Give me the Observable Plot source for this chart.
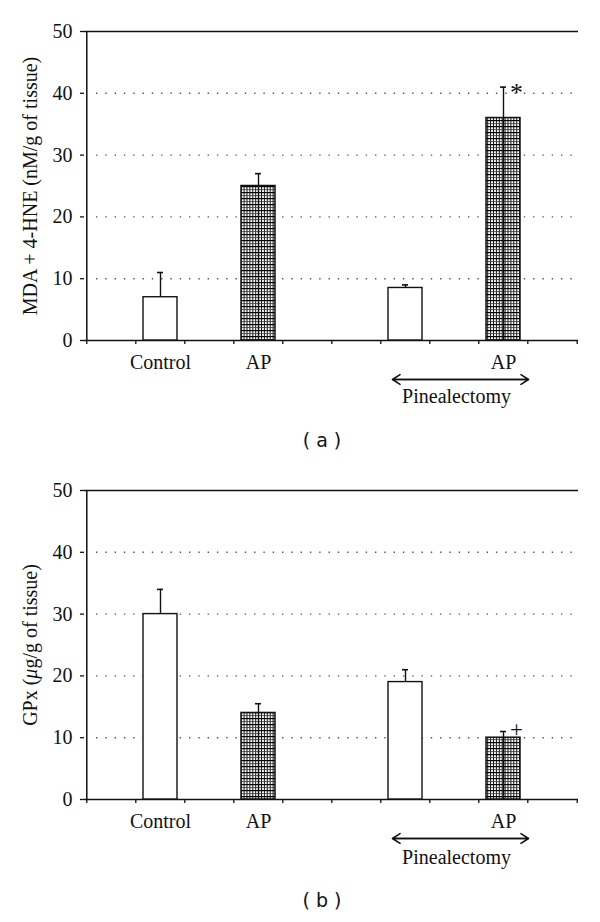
<!DOCTYPE html>
<html>
<head>
<meta charset="utf-8">
<script src="https://cdn.jsdelivr.net/npm/d3@7"></script>
<script src="https://cdn.jsdelivr.net/npm/@observablehq/plot@0.6"></script>
<style>
  body { margin: 0; background: #fff; width: 600px; }
  svg { display: block; }
  svg text { font-family: "Liberation Serif", "Times New Roman", serif; }
  .cap { font-family: "DejaVu Sans", sans-serif; font-size: 19px; height: 40px; line-height: 40px;
         text-align: center; padding-left: 44px; box-sizing: border-box; width: 600px; color: #111; }
</style>
</head>
<body>
<script>
// ---- data ----
const groups = ["Control", "AP", "Pinealectomy", "Pinealectomy + AP"];
const hatched = [false, true, false, true];
const mdaMean = [7, 25, 8.5, 36];
const mdaErr = [4, 2, 0.5, 5];
const gpxMean = [30, 14, 19, 10];
const gpxErr = [4, 1.5, 2, 1];
// category slots of the original chart (empty slots are gaps)
const slots = ["_0", "Control", "_2", "AP", "_4", "_5", "Pinealectomy", "_7", "Pinealectomy + AP", "_9"];
const xTickLabels = [
  {slot: "Control", label: "Control"},
  {slot: "AP", label: "AP"},
  {slot: "Pinealectomy + AP", label: "AP"}
];
const bracket = {from: "Pinealectomy", to: "Pinealectomy + AP", mid: "_7", label: "Pinealectomy"};
const yTicks = [0, 10, 20, 30, 40, 50];
const gridTicks = [10, 20, 30, 40];
const mdaSig = [{group: "Pinealectomy + AP", symbol: "*"}];
const gpxSig = [{group: "Pinealectomy + AP", symbol: "+"}];

const W = 600, ML = 84, MR = 22;
const step = (W - ML - MR) / slots.length;
const SERIF = "'Liberation Serif', 'Times New Roman', serif";
const FS = 20;

function chart({id, mean, err, yLabel, sig, sigDy, sigSize, height, marginTop, marginBottom, labDy, pinDy}) {
  const data = groups.map((g, i) => ({group: g, value: mean[i], hi: mean[i] + err[i], hatched: hatched[i]}));
  const sigData = sig.map(s => ({...s, hi: data.find(d => d.group === s.group).hi}));
  const svg = Plot.plot({
    width: W, height, marginTop, marginBottom, marginLeft: ML, marginRight: MR,
    style: {fontFamily: SERIF, fontSize: FS + "px", color: "#111", background: "#fff", overflow: "visible"},
    x: {domain: slots, paddingInner: 0.31, paddingOuter: 0.155},
    y: {domain: [0, 50]},
    marks: [
      Plot.ruleY(gridTicks, {stroke: "#555", strokeWidth: 1.4, strokeDasharray: "1.4 7.9", insetLeft: 12, insetRight: 3}),
      Plot.ruleY([0, 50], {stroke: "#111", strokeWidth: 1.5}),
      Plot.ruleX([slots[0]], {dx: -step / 2, stroke: "#111", strokeWidth: 1.5}),
      Plot.axisY({ticks: yTicks, tickSize: 4, tickPadding: 8, label: null, fontSize: FS, fontFamily: SERIF, strokeWidth: 1.3}),
      Plot.axisX({ticks: slots, tickSize: 4, tickFormat: () => "", dx: -step / 2, label: null, strokeWidth: 1.3}),
      Plot.axisX({ticks: [slots[slots.length - 1]], tickSize: 4, tickFormat: () => "", dx: step / 2, label: null, strokeWidth: 1.3}),
      Plot.barY(data.filter(d => !d.hatched), {x: "group", y: "value", fill: "white", stroke: "#111", strokeWidth: 1.4}),
      Plot.barY(data.filter(d => d.hatched), {x: "group", y: "value", fill: `url(#${id})`, stroke: "#111", strokeWidth: 1.5}),
      Plot.ruleX(data.filter(d => d.hatched), {x: "group", y1: 0, y2: "value", stroke: "#111", strokeWidth: 1.4}),
      Plot.ruleX(data, {x: "group", y1: "value", y2: "hi", stroke: "#111", strokeWidth: 1.4}),
      Plot.tickY(data, {x: "group", y: "hi", insetLeft: 14, insetRight: 14, stroke: "#111", strokeWidth: 1.6}),
      Plot.text(sigData, {x: "group", y: "hi", text: "symbol", dx: 13, dy: sigDy, fontSize: sigSize, fontFamily: SERIF, fill: "#111"}),
      Plot.text(xTickLabels, {x: "slot", text: "label", frameAnchor: "bottom", dy: labDy, fontSize: FS, fontFamily: SERIF, fill: "#111"}),
      Plot.arrow([bracket], {x1: "from", x2: "to", y1: 0, y2: 0, dy: 39, insetStart: -13, insetEnd: -25, headLength: 9, headAngle: 66, stroke: "#111", strokeWidth: 1.5}),
      Plot.arrow([bracket], {x1: "to", x2: "from", y1: 0, y2: 0, dy: 39, insetStart: -25, insetEnd: -13, headLength: 9, headAngle: 66, stroke: "#111", strokeWidth: 1.5}),
      Plot.text([bracket], {x: "mid", text: "label", frameAnchor: "bottom", dy: pinDy, dx: 2, fontSize: FS, fontFamily: SERIF, fill: "#111"}),
      Plot.text([yLabel], {text: d => d, frameAnchor: "left", textAnchor: "middle", dx: -54, rotate: -90, fontSize: FS, fontFamily: SERIF, fill: "#111"})
    ]
  });
  const s = d3.select(svg);
  const defs = s.insert("defs", ":first-child");
  const p = defs.append("pattern").attr("id", id).attr("patternUnits", "userSpaceOnUse")
    .attr("width", 2.9).attr("height", 6);
  p.append("rect").attr("width", 2.9).attr("height", 6).attr("fill", "#fff");
  p.append("line").attr("x1", 0.5).attr("x2", 0.5).attr("y1", 0).attr("y2", 6).attr("stroke", "#111").attr("stroke-width", 1);
  p.append("line").attr("x1", 0).attr("x2", 2.9).attr("y1", 0.6).attr("y2", 0.6).attr("stroke", "#000").attr("stroke-width", 1.2);
  p.append("line").attr("x1", 0).attr("x2", 2.9).attr("y1", 3.6).attr("y2", 3.6).attr("stroke", "#333").attr("stroke-width", 0.8);
  // italic mu
  s.selectAll("text").filter(function() { return this.textContent.includes("μ"); }).each(function() {
    const parts = this.textContent.split("μ");
    const t = d3.select(this); t.text(null);
    t.append("tspan").text(parts[0]);
    t.append("tspan").attr("font-style", "italic").text("μ");
    t.append("tspan").text(parts[1]);
  });
  return svg;
}

function caption(txt) {
  const d = document.createElement("div");
  d.className = "cap"; d.textContent = txt; return d;
}

document.body.append(
  chart({id: "hatchA", mean: mdaMean, err: mdaErr, yLabel: "MDA + 4-HNE (nM/g of tissue)", sig: mdaSig, sigDy: 6, sigSize: 26,
         height: 420, marginTop: 31, marginBottom: 80, labDy: 28, pinDy: 62}),
  caption("( a )"),
  chart({id: "hatchB", mean: gpxMean, err: gpxErr, yLabel: "GPx (μg/g of tissue)", sig: gpxSig, sigDy: -2, sigSize: 23,
         height: 420, marginTop: 30, marginBottom: 81, labDy: 28, pinDy: 64}),
  caption("( b )")
);
</script>
</body>
</html>
